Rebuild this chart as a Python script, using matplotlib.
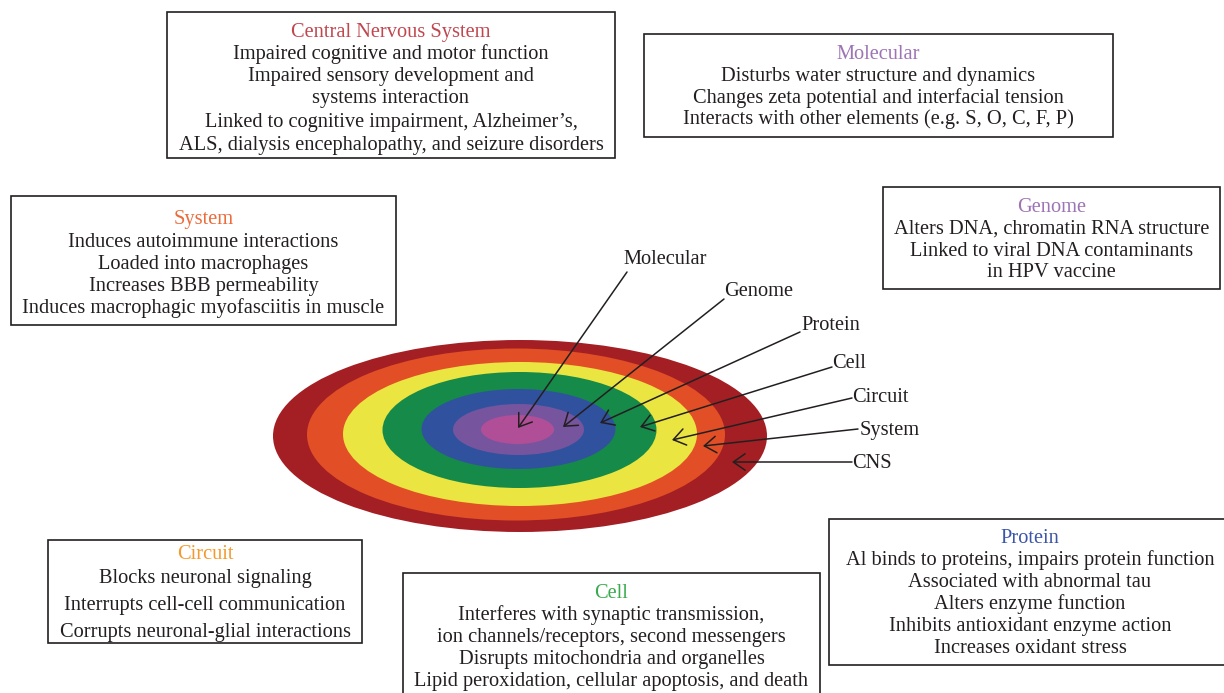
import matplotlib
matplotlib.use("Agg")
from matplotlib import pyplot as plt
from matplotlib.patches import Ellipse, Rectangle

# Levels of the nested ellipse, outermost first
ring_names = ["CNS", "System", "Circuit", "Cell", "Protein", "Genome", "Molecular"]
ring_colors = ["#a31f24", "#e24f26", "#ebe541", "#168a48", "#30529e", "#76549e", "#b04f98"]

# Text of the boxes (first entry is the coloured title)
cns_text = ["Central Nervous System",
            "Impaired cognitive and motor function",
            "Impaired sensory development and",
            "systems interaction",
            "Linked to cognitive impairment, Alzheimer\u2019s,",
            "ALS, dialysis encephalopathy, and seizure disorders"]
molecular_text = ["Molecular",
                  "Disturbs water structure and dynamics",
                  "Changes zeta potential and interfacial tension",
                  "Interacts with other elements (e.g. S, O, C, F, P)"]
genome_text = ["Genome",
               "Alters DNA, chromatin RNA structure",
               "Linked to viral DNA contaminants",
               "in HPV vaccine"]
system_text = ["System",
               "Induces autoimmune interactions",
               "Loaded into macrophages",
               "Increases BBB permeability",
               "Induces macrophagic myofasciitis in muscle"]
circuit_text = ["Circuit",
                "Blocks neuronal signaling",
                "Interrupts cell-cell communication",
                "Corrupts neuronal-glial interactions"]
cell_text = ["Cell",
             "Interferes with synaptic transmission,",
             "ion channels/receptors, second messengers",
             "Disrupts mitochondria and organelles",
             "Lipid peroxidation, cellular apoptosis, and death"]
protein_text = ["Protein",
                "Al binds to proteins, impairs protein function",
                "Associated with abnormal tau",
                "Alters enzyme function",
                "Inhibits antioxidant enzyme action",
                "Increases oxidant stress"]
title_colors = ["#c1474f", "#9d74b5", "#9d74b5", "#ec6b3a", "#f39a2e", "#3aaa4e", "#3b55a8"]

plt.rcParams['font.family'] = ['Liberation Serif', 'DejaVu Serif']
ink = "#231f20"
fs = 14.7

fig = plt.figure(figsize=(12.24, 6.93), dpi=100)
ax = fig.add_axes([0, 0, 1, 1])
ax.set_xlim(0, 1224)
ax.set_ylim(693, 0)
ax.axis('off')

# ellipse geometry (pixel units), outermost first
ring_cx = [520, 516, 520, 519.5, 518.5, 518.5, 517.5]
ring_cy = [436, 434.5, 434, 430, 429, 429.5, 429.5]
ring_w = [494, 418, 354, 274, 194, 131, 73]
ring_h = [192, 172, 144, 116, 80, 51, 29]
for i in range(len(ring_names)):
    ax.add_patch(Ellipse((ring_cx[i], ring_cy[i]), ring_w[i], ring_h[i],
                         facecolor=ring_colors[i], edgecolor='none'))

# labels with arrows pointing into each ring
label_xy = [(852, 464), (860, 430), (852, 398), (832, 364), (801, 326), (724, 292), (623, 259)]
line_start = [(852, 462), (858, 429), (852, 398), (832, 367), (800, 332), (724, 299), (627, 272)]
line_end = [(732, 462), (703, 446), (672, 440), (640, 427), (600, 423), (563, 427), (518, 428)]
for i, name in enumerate(ring_names):
    ax.text(label_xy[i][0], label_xy[i][1], name, fontsize=fs, color=ink,
            ha='left', va='center')
    ax.annotate('', xy=line_end[i], xytext=line_start[i],
                arrowprops=dict(arrowstyle='->,head_length=0.5,head_width=0.35',
                                mutation_scale=17, lw=1.1, color=ink,
                                shrinkA=0, shrinkB=0))

# boxes: left, top, right, bottom and line positions
boxes = [
    (cns_text, (167, 12, 615, 158), [31, 53, 75, 97, 121, 144]),
    (molecular_text, (644, 34, 1113, 137), [53, 75, 97, 118]),
    (genome_text, (883, 187, 1220, 289), [206, 228, 250, 271]),
    (system_text, (11, 196, 396, 325), [218, 241, 263, 285, 307]),
    (circuit_text, (48, 540, 362, 643), [553, 577, 604, 631]),
    (cell_text, (403, 573, 820, 700), [592, 614, 636, 658, 680]),
    (protein_text, (829, 519, 1231, 665), [537, 559, 581, 603, 625, 647]),
]
for k, (lines, (x0, y0, x1, y1), ys) in enumerate(boxes):
    ax.add_patch(Rectangle((x0, y0), x1 - x0, y1 - y0, facecolor='white',
                           edgecolor=ink, lw=1.2))
    xc = (x0 + x1) / 2
    for j, line in enumerate(lines):
        ax.text(xc, ys[j] + 1.5, line, fontsize=fs, ha='center', va='center',
                color=title_colors[k] if j == 0 else ink)

fig.savefig('out.png', dpi=100)
